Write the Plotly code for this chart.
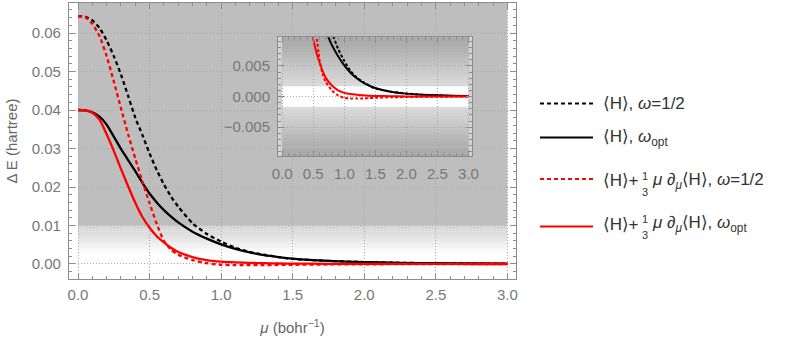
import plotly.graph_objects as go

# mu (bohr^-1) and Delta E (hartree)
mu = [0, 0.05, 0.1, 0.15, 0.2, 0.25, 0.3, 0.35, 0.4, 0.45, 0.5, 0.55, 0.6, 0.65, 0.7,
      0.8, 0.9, 1.0, 1.1, 1.2, 1.3, 1.4, 1.5, 1.75, 2.0, 2.25, 2.5, 2.75, 3.0]

h_half = [0.0644, 0.0642, 0.0633, 0.0613, 0.0581, 0.0540, 0.0492, 0.0437, 0.0380, 0.0335,
          0.0287, 0.0244, 0.0207, 0.0175, 0.0149, 0.0106, 0.0078, 0.0058, 0.0042, 0.0031,
          0.0024, 0.0018, 0.0013, 0.0008, 0.0005, 0.0003, 0.0002, 0.0001, 0.0001]

h_opt = [0.0400, 0.0399, 0.0394, 0.0383, 0.0362, 0.0331, 0.0299, 0.0270, 0.0241, 0.0211,
         0.0183, 0.0160, 0.0140, 0.0123, 0.0108, 0.0084, 0.0066, 0.0051, 0.0039, 0.0030,
         0.0023, 0.0018, 0.0014, 0.0008, 0.00048, 0.0003, 0.0002, 0.00013, 0.0001]

hd_half = [0.0644, 0.0641, 0.0624, 0.0592, 0.0540, 0.0474, 0.0405, 0.0337, 0.0274, 0.0214,
           0.0158, 0.0104, 0.0060, 0.0037, 0.0024, 0.0010, 0.0002, -0.0002, -0.0003, -0.0003,
           -0.0003, -0.00025, -0.0002, -0.00012, -0.00008, -0.00005, -0.00003, -0.00001, 0.0]

hd_opt = [0.0400, 0.0399, 0.0393, 0.0375, 0.0337, 0.0294, 0.0247, 0.0202, 0.0159, 0.0122,
          0.0094, 0.0072, 0.0056, 0.0042, 0.0031, 0.0018, 0.0010, 0.0006, 0.0004, 0.0003,
          0.0002, 0.00013, 0.0001, 0.00005, 0.00003, 0.00002, 0.00001, 0.0, 0.0]

series = [
    ("⟨H⟩, <i>ω</i>=1/2", h_half, "black", "4px,3px"),
    ("⟨H⟩, <i>ω</i><sub>opt</sub>", h_opt, "black", "solid"),
    ("<i>μ</i> ∂<sub><i>μ</i></sub>⟨H⟩, <i>ω</i>=1/2", hd_half, "red", "4px,3px"),
    ("<i>μ</i> ∂<sub><i>μ</i></sub>⟨H⟩, <i>ω</i><sub>opt</sub>", hd_opt, "red", "solid"),
]

FONT = "Liberation Sans, Arial, DejaVu Sans, sans-serif"
GRAY = "#777777"
FRAME = "#8c8c8c"

fig = go.Figure()

for name, ys, color, dash in series:
    fig.add_trace(go.Scatter(x=mu, y=ys, mode="lines", name=name,
                             line=dict(color=color, width=2.3, dash=dash,
                                       shape="spline", smoothing=0.6)))
for name, ys, color, dash in series:
    fig.add_trace(go.Scatter(x=mu, y=ys, mode="lines", name=name, xaxis="x2", yaxis="y2",
                             line=dict(color=color, width=2,
                                       dash="3px,2px" if dash != "solid" else "solid",
                                       shape="spline", smoothing=0.6)))

shapes = []
# main background: gray above 0.01, fading to white below
shapes.append(dict(type="rect", xref="x", yref="y", x0=0, x1=3, y0=0.01, y1=1,
                   fillcolor="#bebebe", line_width=0, layer="below"))
n = 16
for i in range(n):
    c = int(210 + (255 - 210) * i / (n - 1))
    y0 = 0.01 - i * 0.0005
    shapes.append(dict(type="rect", xref="x", yref="y", x0=0, x1=3, y0=y0 - 0.0005, y1=y0 + 0.00002,
                       fillcolor=f"rgb({c},{c},{c})", line_width=0, layer="below"))

# inset background
shapes.append(dict(type="rect", xref="x2", yref="y2", x0=-1, x1=4, y0=-1, y1=1,
                   fillcolor="#d2d2d2", line_width=0, layer="below"))
band = 0.0017
top = 0.0098
for i in range(n):
    c = int(218 - (218 - 166) * i / (n - 1))
    h = (top - band) / n
    for s in (1, -1):
        a = band + i * h
        b = a + h
        shapes.append(dict(type="rect", xref="x2", yref="y2", x0=0, x1=3,
                           y0=s * a, y1=s * (b + 0.00002),
                           fillcolor=f"rgb({c},{c},{c})", line_width=0, layer="below"))
shapes.append(dict(type="rect", xref="x2", yref="y2", x0=0, x1=3, y0=-band, y1=band,
                   fillcolor="white", line_width=0, layer="below"))

# hand-made legend
def px_x(p):
    return (p - 69) / 447


def px_y(p):
    return (279 - p) / 276


rows = [103.5, 137.5, 179, 226.5]
text_rows = [104, 138, 180.5, 224]
for (name, ys, color, dash), ry in zip(series, rows):
    shapes.append(dict(type="line", xref="paper", yref="paper",
                       x0=px_x(540), x1=px_x(593), y0=px_y(ry), y1=px_y(ry),
                       line=dict(color=color, width=2.2, dash=dash)))

annotations = []
leg_font = dict(family=FONT, size=17, color="#333333")
small_font = dict(family=FONT, size=11, color="#333333")
for i, ((name, ys, color, dash), ry) in enumerate(zip(series, text_rows)):
    if i < 2:
        annotations.append(dict(xref="paper", yref="paper", x=px_x(601), y=px_y(ry),
                                xanchor="left", yanchor="middle", text=name,
                                showarrow=False, font=leg_font))
    else:
        annotations.append(dict(xref="paper", yref="paper", x=px_x(601), y=px_y(ry),
                                xanchor="left", yanchor="middle", text="⟨H⟩+",
                                showarrow=False, font=leg_font))
        annotations.append(dict(xref="paper", yref="paper", x=px_x(645), y=px_y(ry - 5),
                                xanchor="center", yanchor="middle", text="1",
                                showarrow=False, font=small_font))
        annotations.append(dict(xref="paper", yref="paper", x=px_x(645), y=px_y(ry + 11),
                                xanchor="center", yanchor="middle", text="3",
                                showarrow=False, font=small_font))
        annotations.append(dict(xref="paper", yref="paper", x=px_x(650), y=px_y(ry),
                                xanchor="left", yanchor="middle", text=name,
                                showarrow=False, font=leg_font))

axis_common = dict(
    showline=True, linecolor=FRAME, linewidth=1.3, mirror="ticks",
    ticks="inside", ticklen=6, tickcolor=FRAME, tickwidth=1,
    showgrid=True, gridcolor="#a8a8a8", griddash="1px,2px", gridwidth=1,
    zeroline=False, automargin=False,
    tickfont=dict(family=FONT, size=15, color=GRAY),
)

fig.update_layout(
    width=789, height=343,
    margin=dict(l=69, r=273, t=3, b=64),
    plot_bgcolor="white", paper_bgcolor="white",
    showlegend=False,
    shapes=shapes, annotations=annotations,
    xaxis=dict(axis_common, range=[-0.063, 3.06], domain=[0, 1], dtick=0.5, tick0=0,
               tickformat=".1f", ticklabelstandoff=2,
               minor=dict(ticks="inside", ticklen=3, dtick=0.1, tickcolor=FRAME, showgrid=False),
               title=dict(text="<i>μ</i> (bohr<sup>−1</sup>)", standoff=20,
                          font=dict(family=FONT, size=15, color="#666666"))),
    yaxis=dict(axis_common, range=[-0.0039, 0.0678], dtick=0.01, tick0=0,
               tickformat=".2f", ticklabelstandoff=4,
               minor=dict(ticks="inside", ticklen=3, dtick=0.002, tickcolor=FRAME, showgrid=False),
               title=dict(text="Δ E (hartree)", standoff=10,
                          font=dict(family=FONT, size=15, color="#666666"))),
    xaxis2=dict(axis_common, anchor="y2", domain=[0.468, 0.902], range=[-0.065, 3.06],
                dtick=0.5, tick0=0, tickformat=".1f", ticklabelstandoff=4,
                minor=dict(ticks="inside", ticklen=3, dtick=0.1, tickcolor=FRAME, showgrid=False)),
    yaxis2=dict(axis_common, anchor="x2", domain=[0.446, 0.876], range=[-0.0097, 0.0097],
                dtick=0.005, tick0=0, tickformat=".3f", ticklabelstandoff=4,
                minor=dict(ticks="inside", ticklen=3, dtick=0.001, tickcolor=FRAME, showgrid=False)),
)

# the page body has a default 8px margin; drop it so the figure sits at the window origin
fig.write_html("out.html", config={"displayModeBar": False},
               post_script="document.body.style.margin='0px';")
